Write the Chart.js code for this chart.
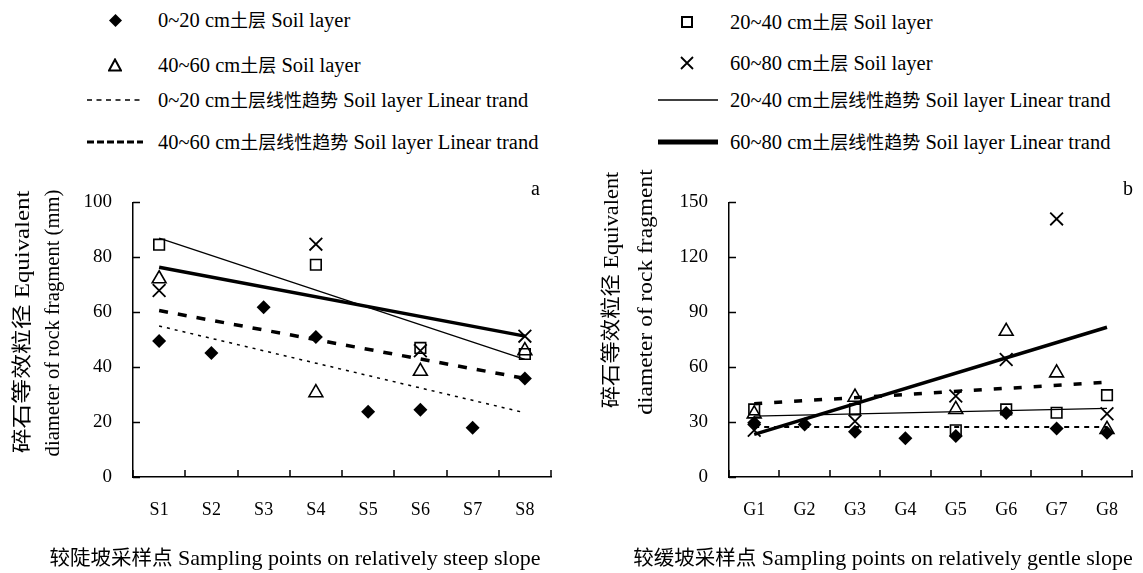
<!DOCTYPE html>
<html>
<head>
<meta charset="utf-8">
<script src="https://cdn.jsdelivr.net/npm/chart.js@4"></script>
<style>
  body { margin: 0; background: #fff; width: 1143px; height: 573px; position: relative; overflow: hidden;
         font-family: "Liberation Serif", "Noto Sans CJK SC", serif; color: #000; }
  .box { position: absolute; }
  .lg { position: absolute; font-size: 20.5px; line-height: 24px; height: 24px; white-space: nowrap; }
  .lg svg { position: absolute; }
  .lg .cj { font-size: 18px; }
  .ytitle { position: absolute; font-size: 20px; line-height: 22px; white-space: nowrap; }
  .ytitle .cj { font-size: 20px; }
  .xtitle { position: absolute; font-size: 22px; line-height: 26px; white-space: nowrap; transform: translateX(-50%); }
  .xtitle .cj { font-size: 20.5px; }
  .corner { position: absolute; font-size: 20px; }
</style>
</head>
<body>

<!-- legend, left column -->
<div class="lg" style="left:0;top:8px;width:560px">
  <svg style="left:109px;top:6px" width="13" height="13"><polygon points="6.5,0 13,6.5 6.5,13 0,6.5" fill="#000"/></svg>
  <span style="position:absolute;left:158px">0~20 cm<span class="cj">土层</span> Soil layer</span>
</div>
<div class="lg" style="left:0;top:53px;width:560px">
  <svg style="left:108px;top:5px" width="14" height="14"><polygon points="7,1.5 13,12.5 1,12.5" fill="none" stroke="#000" stroke-width="2"/></svg>
  <span style="position:absolute;left:158px">40~60 cm<span class="cj">土层</span> Soil layer</span>
</div>
<div class="lg" style="left:0;top:88px;width:560px">
  <svg style="left:87px;top:6px" width="58" height="12"><line x1="0" y1="6" x2="56" y2="6" stroke="#000" stroke-width="1.3" stroke-dasharray="5,4.5"/></svg>
  <span style="position:absolute;left:158px">0~20 cm<span class="cj">土层线性趋势</span> Soil layer Linear trand</span>
</div>
<div class="lg" style="left:0;top:130px;width:560px">
  <svg style="left:87px;top:6px" width="58" height="12"><line x1="0" y1="6" x2="56" y2="6" stroke="#000" stroke-width="3" stroke-dasharray="7,3"/></svg>
  <span style="position:absolute;left:158px">40~60 cm<span class="cj">土层线性趋势</span> Soil layer Linear trand</span>
</div>

<!-- legend, right column -->
<div class="lg" style="left:0;top:10px;width:1143px">
  <svg style="left:680px;top:5px" width="14" height="14"><rect x="2" y="2" width="10" height="10" fill="none" stroke="#000" stroke-width="2"/></svg>
  <span style="position:absolute;left:730px">20~40 cm<span class="cj">土层</span> Soil layer</span>
</div>
<div class="lg" style="left:0;top:51px;width:1143px">
  <svg style="left:680px;top:5px" width="14" height="14"><path d="M1,1 L13,13 M13,1 L1,13" stroke="#000" stroke-width="1.8"/></svg>
  <span style="position:absolute;left:730px">60~80 cm<span class="cj">土层</span> Soil layer</span>
</div>
<div class="lg" style="left:0;top:88px;width:1143px">
  <svg style="left:658px;top:6px" width="62" height="12"><line x1="0" y1="6" x2="60" y2="6" stroke="#000" stroke-width="1.3"/></svg>
  <span style="position:absolute;left:730px">20~40 cm<span class="cj">土层线性趋势</span> Soil layer Linear trand</span>
</div>
<div class="lg" style="left:0;top:130px;width:1143px">
  <svg style="left:658px;top:6px" width="62" height="12"><line x1="0" y1="6" x2="60" y2="6" stroke="#000" stroke-width="5"/></svg>
  <span style="position:absolute;left:730px">60~80 cm<span class="cj">土层线性趋势</span> Soil layer Linear trand</span>
</div>

<div class="box" style="left:0;top:170px;width:565px;height:403px"><canvas id="chartA"></canvas></div>
<div class="box" style="left:565px;top:170px;width:578px;height:403px"><canvas id="chartB"></canvas></div>

<div class="ytitle" id="ytA1"><span class="cj">碎石等效粒径</span> Equivalent</div>
<div class="ytitle" id="ytA2">diameter of rock fragment (mm)</div>
<div class="ytitle" id="ytB1"><span class="cj">碎石等效粒径</span> Equivalent</div>
<div class="ytitle" id="ytB2">diameter of rock fragment</div>

<div class="xtitle" style="left:295px;top:545px"><span class="cj">较陡坡采样点</span> Sampling points on relatively steep slope</div>
<div class="xtitle" style="left:883px;top:545px"><span class="cj">较缓坡采样点</span> Sampling points on relatively gentle slope</div>

<div class="corner" style="left:531px;top:177px">a</div>
<div class="corner" style="left:1123px;top:177px">b</div>

<script>
// steep slope (a)
const steepLabels = ['S1', 'S2', 'S3', 'S4', 'S5', 'S6', 'S7', 'S8'];
const steep0_20 = [49.5, 45.2, 61.8, 51.0, 23.8, 24.5, 17.9, 35.9];
const steep20_40 = [84.6, null, null, 77.3, null, 47.0, null, 44.8];
const steep40_60 = [72.2, null, null, 30.7, null, 38.5, null, 46.0];
const steep60_80 = [67.9, null, null, 84.8, null, 46.0, null, 51.3];
const steepTrend0_20 = [55.0, null, null, null, null, null, null, 23.4];
const steepTrend20_40 = [87.0, null, null, null, null, null, null, 42.8];
const steepTrend40_60 = [60.6, null, null, null, null, null, null, 35.9];
const steepTrend60_80 = [76.4, null, null, null, null, null, null, 51.3];
const steepTicks = [0, 20, 40, 60, 80, 100];

// gentle slope (b)
const gentleLabels = ['G1', 'G2', 'G3', 'G4', 'G5', 'G6', 'G7', 'G8'];
const gentle0_20 = [29.6, 28.7, 24.7, 21.1, 22.4, 35.0, 26.5, 24.2];
const gentle20_40 = [36.9, null, 36.9, null, 25.5, 36.9, 35.1, 44.7];
const gentle40_60 = [34.5, null, 43.6, null, 36.9, 79.6, 56.9, 26.0];
const gentle60_80 = [25.5, null, 30.5, null, 44.2, 64.2, 141.0, 34.5];
const gentleTrend0_20 = [27.3, null, null, null, null, null, null, 27.3];
const gentleTrend20_40 = [33.3, null, null, null, null, null, null, 37.5];
const gentleTrend40_60 = [40.0, null, null, null, null, null, null, 51.8];
const gentleTrend60_80 = [23.3, null, null, null, null, null, null, 81.8];
const gentleTicks = [0, 30, 60, 90, 120, 150];

const fontFam = '"Liberation Serif", "Noto Sans CJK SC", serif';

function markers(data, style) {
  const base = { data: data, showLine: false, borderColor: '#000', order: 1 };
  if (style === 'diamond') return Object.assign(base, { pointStyle: 'rectRot', pointRadius: 7, backgroundColor: '#000', pointBorderWidth: 0 });
  if (style === 'square') return Object.assign(base, { pointStyle: 'rect', pointRadius: 7.5, backgroundColor: 'rgba(0,0,0,0)', pointBorderWidth: 1.6 });
  if (style === 'triangle') return Object.assign(base, { pointStyle: 'triangle', pointRadius: 8, backgroundColor: 'rgba(0,0,0,0)', pointBorderWidth: 1.6 });
  return Object.assign(base, { pointStyle: 'crossRot', pointRadius: 9, backgroundColor: 'rgba(0,0,0,0)', pointBorderWidth: 1.8 });
}

function trend(data, width, dash) {
  return { data: data, spanGaps: true, pointRadius: 0, borderColor: '#000', borderWidth: width, borderDash: dash, order: 0 };
}

// inward tick marks, like the original
const innerTicks = {
  id: 'innerTicks',
  afterDraw(chart) {
    const ctx = chart.ctx;
    const x = chart.scales.x, y = chart.scales.y;
    ctx.save();
    ctx.strokeStyle = '#000';
    ctx.lineWidth = 1.5;
    ctx.beginPath();
    y.ticks.forEach(t => {
      const py = Math.round(y.getPixelForValue(t.value)) + 0.5;
      ctx.moveTo(x.left, py); ctx.lineTo(x.left + 7, py);
    });
    for (let i = 0; i <= x.ticks.length; i++) {
      const px = Math.round(x.getPixelForValue(i - 0.5));
      ctx.moveTo(px, y.bottom); ctx.lineTo(px, y.bottom - 7);
    }
    ctx.stroke();
    ctx.restore();
  }
};

function makeChart(id, labels, sets, yMax, yStep, axisW, rightPad) {
  return new Chart(document.getElementById(id), {
    type: 'line',
    data: { labels: labels, datasets: sets },
    options: {
      responsive: true,
      maintainAspectRatio: false,
      animation: false,
      layout: { padding: { top: 31, right: rightPad, left: 0, bottom: 0 } },
      plugins: { legend: { display: false }, tooltip: { enabled: false } },
      scales: {
        x: {
          offset: true,
          grid: { display: true, drawOnChartArea: false, drawTicks: false, offset: true },
          border: { display: true, color: '#000', width: 1.5 },
          ticks: { color: '#000', padding: 22, font: { family: fontFam, size: 18 }, maxRotation: 0 },
          afterFit(s) { s.height = 96; }
        },
        y: {
          min: 0, max: yMax,
          grid: { display: true, drawOnChartArea: false, drawTicks: false },
          border: { display: true, color: '#000', width: 1.5 },
          ticks: { stepSize: yStep, color: '#000', padding: 21, font: { family: fontFam, size: 19 } },
          afterFit(s) { s.width = axisW; }
        }
      }
    },
    plugins: [innerTicks]
  });
}

makeChart('chartA', steepLabels, [
  markers(steep0_20, 'diamond'),
  markers(steep20_40, 'square'),
  markers(steep40_60, 'triangle'),
  markers(steep60_80, 'cross'),
  trend(steepTrend0_20, 1.5, [3, 5]),
  trend(steepTrend20_40, 1.3, []),
  trend(steepTrend40_60, 3.5, [9, 10]),
  trend(steepTrend60_80, 3.5, [])
], steepTicks[steepTicks.length - 1], steepTicks[1], 133, 14);

makeChart('chartB', gentleLabels, [
  markers(gentle0_20, 'diamond'),
  markers(gentle20_40, 'square'),
  markers(gentle40_60, 'triangle'),
  markers(gentle60_80, 'cross'),
  trend(gentleTrend0_20, 1.8, [5, 5]),
  trend(gentleTrend20_40, 1.3, []),
  trend(gentleTrend40_60, 3.5, [8, 12]),
  trend(gentleTrend60_80, 3.5, [])
], gentleTicks[gentleTicks.length - 1], gentleTicks[1], 164, 1);

// rotated y titles, stretched along their length to the span used in the original
function placeTitle(id, cx, cy, len) {
  const el = document.getElementById(id);
  const w = el.offsetWidth, h = el.offsetHeight;
  el.style.left = (cx - w / 2) + 'px';
  el.style.top = (cy - h / 2) + 'px';
  el.style.transform = 'rotate(-90deg) scaleX(' + (len / w).toFixed(3) + ')';
}
placeTitle('ytA1', 22, 322, 263);
placeTitle('ytA2', 52, 323, 267);
placeTitle('ytB1', 611, 290, 237);
placeTitle('ytB2', 644, 292, 245);
</script>
</body>
</html>
